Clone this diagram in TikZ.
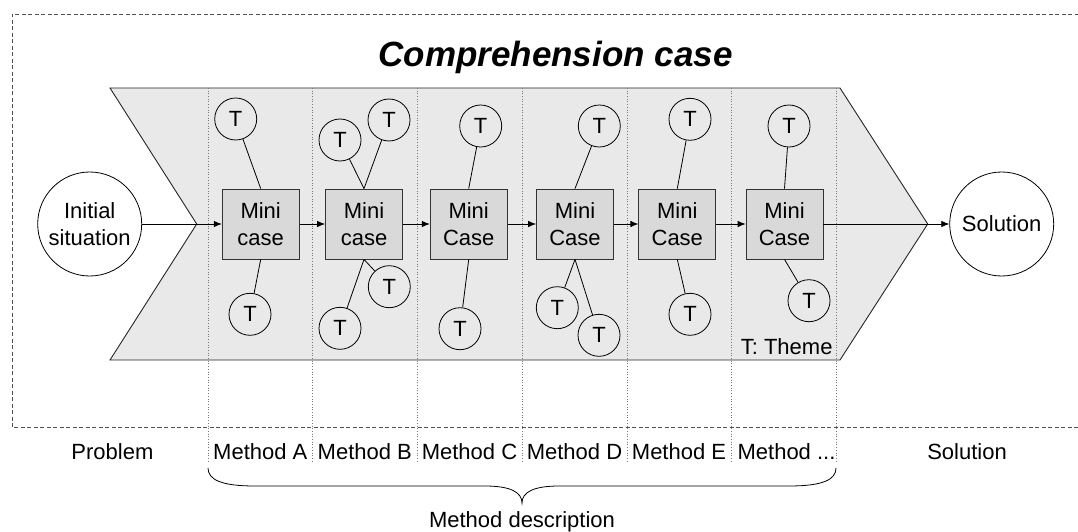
\documentclass[tikz,border=0pt]{standalone}
\usepackage{fontspec}
\setmainfont{Liberation Sans}
\usetikzlibrary{arrows.meta}
\definecolor{chevfill}{RGB}{233,233,233}
\definecolor{boxfill}{RGB}{217,217,217}
\definecolor{framecol}{RGB}{80,80,80}
\definecolor{sepcol}{RGB}{120,120,120}
\newcommand\labfont{\fontsize{22}{26.5}\selectfont}
\newcommand\ttlfont{\fontsize{35}{40}\selectfont\bfseries\itshape}
\begin{document}
\begin{tikzpicture}[x=1pt,y=-1pt,
  tcirc/.style={circle,draw=black,line width=0.8pt,fill=chevfill,minimum size=42pt,inner sep=0pt,font=\labfont},
  minibox/.style={rectangle,draw=black!80,line width=0.8pt,fill=boxfill,minimum width=77pt,minimum height=70pt,inner sep=0pt,align=center,font=\labfont},
  bigcirc/.style={circle,draw=black,line width=0.8pt,fill=white,minimum size=104pt,inner sep=0pt,align=center,font=\labfont},
  tlink/.style={draw=black,line width=0.8pt},
  flow/.style={draw=black,line width=0.8pt,-{Latex[length=8pt,width=6.5pt]}},
  sep/.style={draw=sepcol,line width=0.7pt,dotted},
  lbl/.style={font=\labfont,anchor=base,inner sep=0pt}
]
\useasboundingbox (0,0) rectangle (1078,532);
% dashed frame
\draw[framecol,line width=0.8pt,dash pattern=on 4pt off 2.5pt] (1085,14) -- (12,14) -- (12,427) -- (1085,427);
% title
\node[font=\ttlfont,anchor=base west,inner sep=0pt] (title) at (378.3,66.7) {Comprehension case};
% chevron
\draw[fill=chevfill,draw=black!85,line width=0.9pt] (110,88) -- (840,88) -- (927.7,224) -- (840,360) -- (110,360) -- (196.7,224) -- cycle;
\coordinate (notch) at (196.7,224);
% column separators
\foreach \x in {208,312.5,417,522,627,731.5,836}
  \draw[sep] (\x,88) -- (\x,462);
% big circles
\node[bigcirc] (init) at (89.7,224) {Initial\\situation};
\node[bigcirc] (sol) at (1001.7,224) {Solution};
% mini cases
\node[minibox] (m1) at (260.7,224) {Mini\\case};
\node[minibox] (m2) at (364,224) {Mini\\case};
\node[minibox] (m3) at (468.7,224) {Mini\\Case};
\node[minibox] (m4) at (575,224) {Mini\\Case};
\node[minibox] (m5) at (677.3,224) {Mini\\Case};
\node[minibox] (m6) at (784.5,224) {Mini\\Case};
% flow arrows
\draw[flow] (init) -- (m1);
\draw[flow] (m1) -- (m2);
\draw[flow] (m2) -- (m3);
\draw[flow] (m3) -- (m4);
\draw[flow] (m4) -- (m5);
\draw[flow] (m5) -- (m6);
\draw[flow] (m6) -- (sol);
% themes
\node[tcirc] (t1a) at (235.7,119) {T};
\node[tcirc] (t1b) at (250,314.3) {T};
\node[tcirc] (t2a) at (340,140) {T};
\node[tcirc] (t2b) at (389,120) {T};
\node[tcirc] (t2c) at (389.3,286.7) {T};
\node[tcirc] (t2d) at (340,328.3) {T};
\node[tcirc] (t3a) at (480.7,126) {T};
\node[tcirc] (t3b) at (460,328.7) {T};
\node[tcirc] (t4a) at (599.3,126) {T};
\node[tcirc] (t4b) at (557.3,307.7) {T};
\node[tcirc] (t4c) at (599,335.3) {T};
\node[tcirc] (t5a) at (690,119.3) {T};
\node[tcirc] (t5b) at (690,314.3) {T};
\node[tcirc] (t6a) at (789,126) {T};
\node[tcirc] (t6b) at (809,300.7) {T};
\draw[tlink] (m1.north) -- (t1a);
\draw[tlink] (m1.south) -- (t1b);
\draw[tlink] (m2.north) -- (t2a);
\draw[tlink] (m2.north) -- (t2b);
\draw[tlink] (m2.south) -- (t2c);
\draw[tlink] (m2.south) -- (t2d);
\draw[tlink] (m3.north) -- (t3a);
\draw[tlink] (m3.south) -- (t3b);
\draw[tlink] (m4.north) -- (t4a);
\draw[tlink] (m4.south) -- (t4b);
\draw[tlink] (m4.south) -- (t4c);
\draw[tlink] (m5.north) -- (t5a);
\draw[tlink] (m5.south) -- (t5b);
\draw[tlink] (m6.north) -- (t6a);
\draw[tlink] (m6.south) -- (t6b);
% legend
\node[font=\labfont,anchor=base east,inner sep=0pt] (legend) at (832.7,354) {T: Theme};
% bottom labels
\node[lbl] (lprob) at (112.4,459.3) {Problem};
\node[lbl] (lA) at (260.3,459.3) {Method A};
\node[lbl] (lB) at (364.8,459.3) {Method B};
\node[lbl] (lC) at (469.5,459.3) {Method C};
\node[lbl] (lD) at (574.5,459.3) {Method D};
\node[lbl] (lE) at (679,459.3) {Method E};
\node[lbl] (lX) at (786.5,459.3) {Method ...};
\node[lbl] (lsol) at (967,459.3) {Solution};
% brace
\draw[black,line width=0.8pt] (208,468) .. controls (208,480) and (222,486) .. (255,486) -- (485,486) .. controls (510,486) and (522,492) .. (522,503) .. controls (522,492) and (534,486) .. (559,486) -- (789,486) .. controls (822,486) and (836,480) .. (836,468);
\node[lbl] (ldesc) at (522,527) {Method description};
\end{tikzpicture}
\end{document}
